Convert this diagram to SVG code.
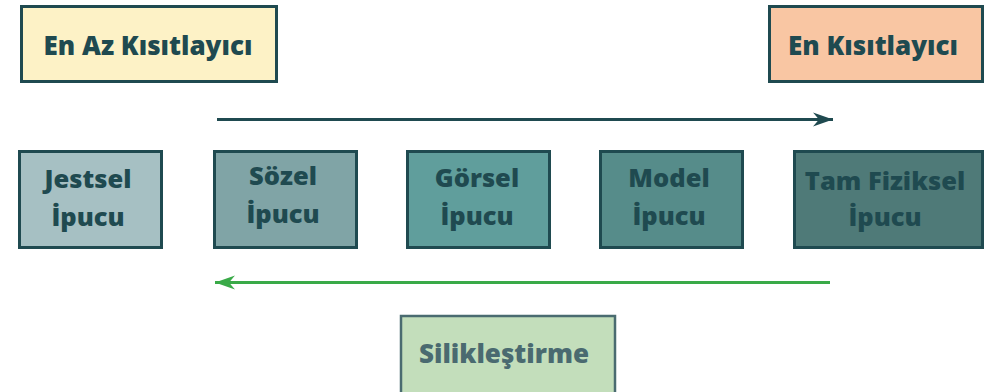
<svg xmlns="http://www.w3.org/2000/svg" width="991" height="392" viewBox="0 0 991 392">
  <style>
    .box { stroke: #1f4a50; stroke-width: 3; }
    .lbl { font-family: "Open Sans", "Noto Sans", sans-serif; font-weight: 800; fill: #1f4a50; text-anchor: middle; }
    .big { font-size: 26px; }
    .mid { font-size: 25.5px; }
  </style>
  <defs>
    <marker id="headDark" markerUnits="userSpaceOnUse" viewBox="-20 -8 21 16" refX="0" refY="0" markerWidth="21" markerHeight="16" orient="auto">
      <path d="M0,0 L-20,-7 L-14,0 L-20,7 Z" fill="#1f4a50"/>
    </marker>
    <marker id="headGreen" markerUnits="userSpaceOnUse" viewBox="-20 -8 21 16" refX="0" refY="0" markerWidth="21" markerHeight="16" orient="auto">
      <path d="M0,0 L-20,-7 L-14,0 L-20,7 Z" fill="#3aaa48"/>
    </marker>
  </defs>

  <!-- scale ends -->
  <g id="least-restrictive">
    <rect class="box" x="21.5" y="6.5" width="255" height="75" fill="#fdf2c6"/>
    <text class="lbl big" x="148" y="55">En Az Kısıtlayıcı</text>
  </g>
  <g id="most-restrictive">
    <rect class="box" x="769.5" y="6.5" width="213" height="75" fill="#f9c6a3"/>
    <text class="lbl big" x="873" y="55">En Kısıtlayıcı</text>
  </g>

  <!-- prompt types -->
  <g id="gestural">
    <rect class="box" x="19.5" y="151.5" width="142" height="96" fill="#a6c0c3"/>
    <text class="lbl mid" x="88" y="188">Jestsel</text>
    <text class="lbl mid" x="88" y="226">İpucu</text>
  </g>
  <g id="verbal">
    <rect class="box" x="214.5" y="151.5" width="142" height="96" fill="#80a4a6"/>
    <text class="lbl mid" x="283" y="185">Sözel</text>
    <text class="lbl mid" x="283" y="223">İpucu</text>
  </g>
  <g id="visual">
    <rect class="box" x="407.5" y="151.5" width="142" height="96" fill="#609e9c"/>
    <text class="lbl mid" x="477" y="187">Görsel</text>
    <text class="lbl mid" x="477" y="225">İpucu</text>
  </g>
  <g id="model">
    <rect class="box" x="600.5" y="151.5" width="142" height="96" fill="#568c8a"/>
    <text class="lbl mid" x="669" y="187">Model</text>
    <text class="lbl mid" x="669" y="225">İpucu</text>
  </g>
  <g id="full-physical">
    <rect class="box" x="794.5" y="151.5" width="188" height="96" fill="#4f7a78"/>
    <text class="lbl mid" x="885" y="190">Tam Fiziksel</text>
    <text class="lbl mid" x="885" y="226">İpucu</text>
  </g>

  <!-- fading -->
  <g id="fading">
    <rect x="401" y="316" width="214" height="80" fill="#c3debb" stroke="#4a6b70" stroke-width="2.5"/>
    <text class="lbl big" x="504" y="363" style="fill:#4a6a70">Silikleştirme</text>
  </g>

  <!-- direction arrows -->
  <g id="connectors">
    <line x1="217" y1="119.5" x2="833" y2="119.5" stroke="#1f4a50" stroke-width="3" marker-end="url(#headDark)"/>
    <line x1="830" y1="282.5" x2="215" y2="282.5" stroke="#3aaa48" stroke-width="3" marker-end="url(#headGreen)"/>
  </g>
</svg>
